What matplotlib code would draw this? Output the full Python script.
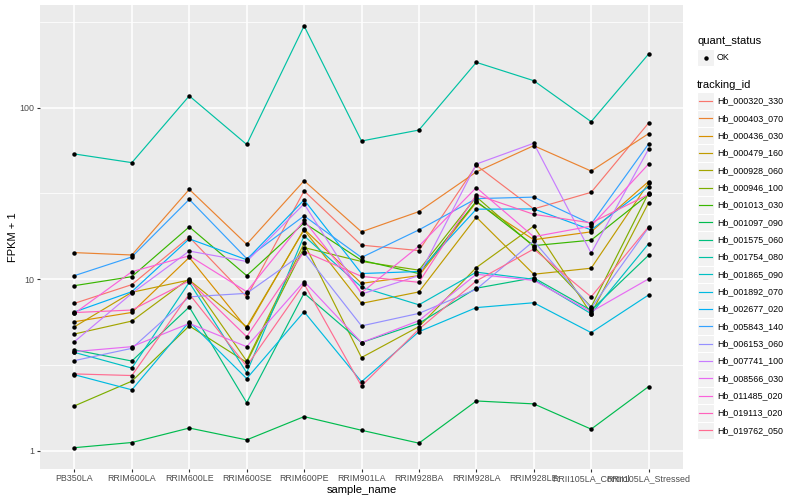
import matplotlib
matplotlib.use("Agg")
import matplotlib.pyplot as plt
from matplotlib.patches import Rectangle
from matplotlib.lines import Line2D
from matplotlib.ticker import FixedLocator, NullFormatter

plt.rcParams["font.family"] = ["Liberation Sans", "DejaVu Sans"]

samples = ["PB350LA", "RRIM600LA", "RRIM600LE", "RRIM600SE", "RRIM600PE",
           "RRIM901LA", "RRIM928BA", "RRIM928LA", "RRIM928LE",
           "RRII105LA_Control", "RRII105LA_Stressed"]

tracking_ids = ["Hb_000320_330", "Hb_000403_070", "Hb_000436_030", "Hb_000479_160",
                "Hb_000928_060", "Hb_000946_100", "Hb_001013_030", "Hb_001097_090",
                "Hb_001575_060", "Hb_001754_080", "Hb_001865_090", "Hb_001892_070",
                "Hb_002677_020", "Hb_005843_140", "Hb_006153_060", "Hb_007741_100",
                "Hb_008566_030", "Hb_011485_020", "Hb_019113_020", "Hb_019762_050"]

# ggplot default hue palette for 20 levels
colors = ["#F8766D", "#EA8331", "#D89000", "#C09B00", "#A3A500", "#7CAE00",
          "#39B600", "#00BB4E", "#00BF7D", "#00C1A3", "#00BFC4", "#00BAE0",
          "#00B0F6", "#35A2FF", "#9590FF", "#C77CFF", "#E76BF3", "#FA62DB",
          "#FF62BC", "#FF6C91"]

# FPKM + 1 per sample
hb_000320_330 = [7.24, 9.31, 17.6, 7.9, 32.7, 15.8, 14.7, 46.1, 25.7, 32.1, 81.3]
hb_000403_070 = [14.3, 13.85, 33.4, 16.0, 37.5, 18.9, 24.8, 42.2, 60.0, 42.7, 70.5]
hb_000436_030 = [5.66, 6.41, 13.4, 5.18, 19.6, 9.47, 10.5, 28.1, 17.0, 18.9, 37.1]
hb_000479_160 = [5.29, 8.4, 9.9, 5.29, 19.4, 7.24, 8.44, 23.0, 10.7, 11.6, 36.3]
hb_000928_060 = [4.80, 5.71, 10.1, 3.34, 16.2, 3.5, 5.3, 11.7, 20.4, 6.3, 27.9]
hb_000946_100 = [1.83, 2.55, 5.35, 3.28, 15.3, 12.7, 11.3, 30.2, 15.5, 6.9, 31.8]
hb_001013_030 = [9.18, 10.36, 20.2, 10.5, 21.3, 12.9, 10.8, 28.5, 15.7, 16.9, 31.2]
hb_001097_090 = [1.045, 1.12, 1.36, 1.16, 1.585, 1.32, 1.11, 1.955, 1.88, 1.34, 2.37]
hb_001575_060 = [3.88, 3.34, 6.9, 1.91, 8.3, 4.28, 5.54, 8.87, 10.2, 6.6, 13.8]
hb_001754_080 = [53.7, 47.8, 117.0, 61.0, 299.0, 63.9, 74.0, 183.5, 143.5, 82.8, 205.0]
hb_001865_090 = [3.75, 3.04, 9.6, 2.86, 17.9, 9.0, 7.1, 11.0, 10.0, 6.3, 16.1]
hb_001892_070 = [2.78, 2.27, 5.66, 2.64, 6.47, 2.53, 4.95, 6.84, 7.3, 4.89, 8.1]
hb_002677_020 = [6.45, 8.47, 17.2, 13.0, 29.0, 10.8, 11.1, 25.6, 25.7, 19.4, 34.7]
hb_005843_140 = [10.5, 13.5, 29.2, 13.2, 23.4, 13.4, 19.4, 29.5, 30.1, 21.0, 61.4]
hb_006153_060 = [3.36, 3.96, 7.9, 8.28, 14.3, 5.35, 6.33, 8.75, 16.7, 6.8, 20.0]
hb_007741_100 = [4.33, 8.28, 14.6, 12.7, 27.5, 8.2, 10.5, 46.9, 62.0, 14.2, 57.3]
hb_008566_030 = [3.79, 4.05, 5.53, 4.05, 9.7, 4.28, 5.74, 10.7, 9.85, 6.47, 10.05]
hb_011485_020 = [6.33, 11.07, 13.7, 8.47, 22.0, 8.35, 15.6, 34.2, 17.7, 20.4, 46.9]
hb_019113_020 = [6.40, 6.62, 9.8, 4.63, 14.5, 10.4, 9.6, 31.1, 23.9, 21.3, 31.2]
hb_019762_050 = [2.81, 2.75, 8.2, 3.12, 9.4, 2.39, 5.12, 9.78, 15.0, 7.9, 20.2]

series = [hb_000320_330, hb_000403_070, hb_000436_030, hb_000479_160,
          hb_000928_060, hb_000946_100, hb_001013_030, hb_001097_090,
          hb_001575_060, hb_001754_080, hb_001865_090, hb_001892_070,
          hb_002677_020, hb_005843_140, hb_006153_060, hb_007741_100,
          hb_008566_030, hb_011485_020, hb_019113_020, hb_019762_050]

W, H = 800, 500
fig = plt.figure(figsize=(8, 5), dpi=100)
ax = fig.add_axes([40 / W, 1 - 469 / H, (683 - 40) / W, (469 - 5) / H])
ax.set_facecolor("#EBEBEB")
for s in ax.spines.values():
    s.set_visible(False)

x = list(range(len(samples)))
for vals, col in zip(series, colors):
    ax.plot(x, vals, color=col, lw=0.85, zorder=2)
for vals in series:
    ax.plot(x, vals, "o", color="black", ms=2.2, zorder=3)

ax.set_yscale("log")
ax.set_ylim(0.785, 396)
ax.set_xlim(-0.6, len(samples) - 0.4)
ax.yaxis.set_major_locator(FixedLocator([1, 10, 100]))
ax.set_yticklabels(["1", "10", "100"])
ax.yaxis.set_minor_locator(FixedLocator([10 ** 0.5, 10 ** 1.5, 10 ** 2.5]))
ax.yaxis.set_minor_formatter(NullFormatter())
ax.set_xticks(x)
ax.set_xticklabels(samples)
ax.grid(which="major", color="white", lw=1.1)
ax.grid(which="minor", axis="y", color="white", lw=0.55)
ax.set_axisbelow(True)
ax.tick_params(which="major", length=2, width=0.8, color="#333333",
               labelcolor="#4D4D4D", labelsize=6.4, pad=1.8)
ax.tick_params(which="minor", length=0)
ax.set_xlabel("sample_name", fontsize=8, color="black", labelpad=1)
ax.set_ylabel("FPKM + 1", fontsize=8, color="black", labelpad=1)


def fx(px):
    return px / W


def fy(py):
    return 1 - py / H


# legend: quant_status
fig.text(fx(697), fy(41), "quant_status", fontsize=8, va="center", ha="left")
fig.add_artist(Rectangle((fx(697), fy(66)), 17 / W, 17 / H, transform=fig.transFigure,
                         facecolor="#F2F2F2", edgecolor="white", lw=0.8))
fig.add_artist(Line2D([fx(705.5)], [fy(57.5)], marker="o", ms=2.2, color="black",
                      transform=fig.transFigure))
fig.text(fx(717), fy(57.5), "OK", fontsize=6.4, va="center", ha="left")

# legend: tracking_id
fig.text(fx(697), fy(84.5), "tracking_id", fontsize=8, va="center", ha="left")
for i, (name, col) in enumerate(zip(tracking_ids, colors)):
    cy = 101 + i * 17.33
    fig.add_artist(Rectangle((fx(697), fy(cy + 8.6)), 17 / W, 17.3 / H,
                             transform=fig.transFigure, facecolor="#F2F2F2",
                             edgecolor="white", lw=0.8))
    fig.add_artist(Line2D([fx(699), fx(712)], [fy(cy), fy(cy)], color=col, lw=0.85,
                          transform=fig.transFigure))
    fig.text(fx(717), fy(cy), name, fontsize=6.4, va="center", ha="left")

fig.savefig("out.png", dpi=100, facecolor="white")
